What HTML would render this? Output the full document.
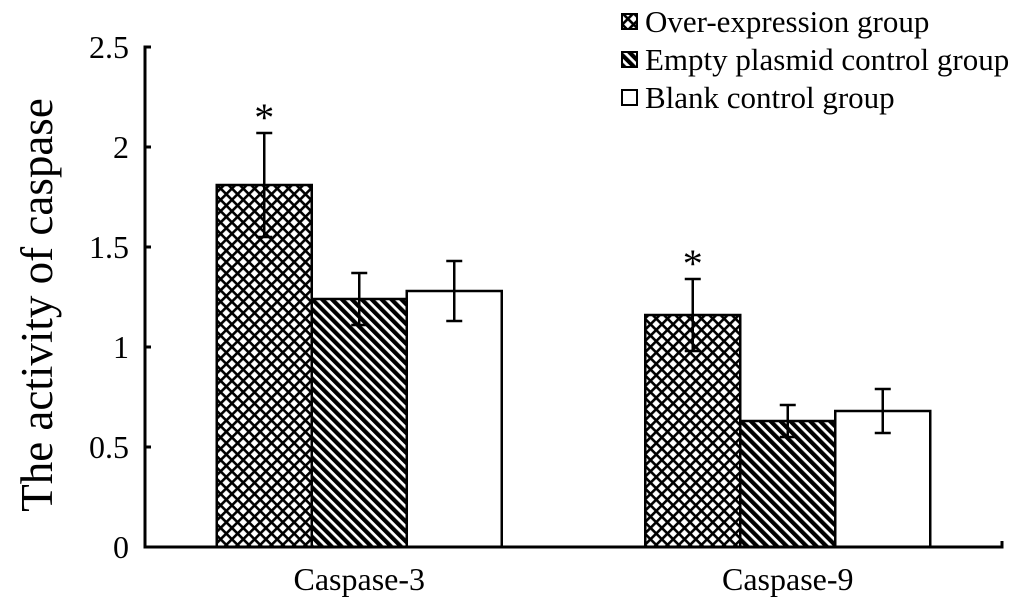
<!DOCTYPE html>
<html><head><meta charset="utf-8"><style>
body{margin:0;background:#fff}
svg text{font-family:"Liberation Serif",serif;fill:#000}
</style></head><body>
<svg width="1033" height="611" viewBox="0 0 1033 611">
<defs>
<pattern id="cross" width="8" height="8" patternUnits="userSpaceOnUse" patternTransform="rotate(45)">
<rect width="8" height="8" fill="#fff"/>
<rect width="8" height="2.6" fill="#000"/><rect width="2.6" height="8" fill="#000"/>
</pattern>
<pattern id="diag" width="7" height="7" patternUnits="userSpaceOnUse" patternTransform="rotate(-45)">
<rect width="7" height="7" fill="#fff"/><rect width="4.2" height="7" fill="#000"/>
</pattern>
</defs>
<g id="plot"></g>
<text x="52" y="305" font-size="45" text-anchor="middle" transform="rotate(-90 52 305)">The activity of caspase</text>
<g font-size="31">
<g><rect x="622" y="14" width="15" height="15" fill="url(#cross)" stroke="#000" stroke-width="2"/><text x="645" y="32">Over-expression group</text></g>
<g><rect x="622" y="52" width="15" height="15" fill="url(#diag)" stroke="#000" stroke-width="2"/><text x="645" y="70">Empty plasmid control group</text></g>
<g><rect x="622" y="90" width="15" height="15" fill="#fff" stroke="#000" stroke-width="2"/><text x="645" y="108">Blank control group</text></g>
</g>
</svg>
<script>
const categories=["Caspase-3","Caspase-9"];
const overExpression=[1.81,1.16];
const emptyPlasmid=[1.24,0.63];
const blankControl=[1.28,0.68];
const overErr=[0.26,0.18];
const emptyErr=[0.13,0.08];
const blankErr=[0.15,0.11];
const significant=[true,true];
const yTicks=["0","0.5","1","1.5","2","2.5"];

const NS="http://www.w3.org/2000/svg";
const g=document.getElementById('plot');
const x0=145,x1=1002,yb=547,yt=47,ymax=2.5;
const y=v=>yb-(v/ymax)*(yb-yt);
const band=(x1-x0)/categories.length;
const bw=95;
function mk(t,a){const e=document.createElementNS(NS,t);for(const k in a)e.setAttribute(k,a[k]);g.appendChild(e);return e;}
const series=[[overExpression,overErr,"url(#cross)","over-expression"],[emptyPlasmid,emptyErr,"url(#diag)","empty-plasmid"],[blankControl,blankErr,"#fff","blank-control"]];
categories.forEach((c,i)=>{
  const cx=x0+band*(i+0.5);
  const start=cx-bw*1.5;
  series.forEach((s,j)=>{
    const v=s[0][i],e=s[1][i];
    const bx=start+j*bw;
    const r=mk('rect',{x:bx,y:y(v),width:bw,height:yb-y(v),fill:s[2],stroke:'#000','stroke-width':2.5});
    
    
    const mx=bx+bw/2;
    const eb=mk('path',{d:`M${mx},${y(v+e)}V${y(v-e)}M${mx-8},${y(v+e)}H${mx+8}M${mx-8},${y(v-e)}H${mx+8}`,stroke:'#000','stroke-width':2.5,fill:'none'});
    
    
    if(j===0&&significant[i]){
      const st=mk('text',{x:mx,y:y(v+e)-2,'font-size':40,'text-anchor':'middle'});st.textContent='*';
      
      
    }
  });
  const t=mk('text',{x:cx,y:590,'font-size':32,'text-anchor':'middle'});t.textContent=c;
  
  
});
const ax=mk('path',{d:`M${x0+4},${yt}H${x0}V${yb}H${x1}V${yb-6}`,stroke:'#000','stroke-width':3,fill:'none'});


yTicks.forEach(tl=>{
  const v=parseFloat(tl);
  mk('line',{x1:x0,x2:x0+6,y1:y(v),y2:y(v),stroke:'#000','stroke-width':3});
  const t=mk('text',{x:129,y:y(v)+11,'font-size':32,'text-anchor':'end'});t.textContent=tl;
  
  
});
</script>
</body></html>
